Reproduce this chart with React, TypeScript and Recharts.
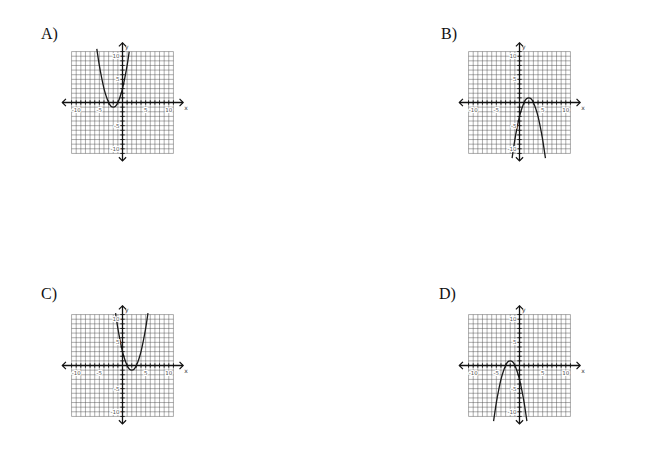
import React from 'react';
import { ComposedChart, Line, Scatter, XAxis, YAxis, ReferenceLine } from 'recharts';

// grid runs one unit past the labelled range on every side
const GRID_TICKS = [-11, -10, -9, -8, -7, -6, -5, -4, -3, -2, -1, 0, 1, 2, 3, 4, 5, 6, 7, 8, 9, 10, 11];
const X_LABELS = [-10, -5, 5, 10];
const Y_LABELS = [10, 5, -5, -10];

// curves
const A_X = [-5.55, -5, -4.5, -4, -3.5, -3, -2.5, -2, -1.5, -1, -0.5, 0, 0.5, 1, 1.45];
const A_Y = [11.6, 8, 5.3, 3, 1.3, 0, -0.8, -1, -0.8, 0, 1.3, 3, 5.3, 8, 11];

const B_X = [-1.6, -1, -0.5, 0, 0.5, 1, 1.5, 2, 2.5, 3, 3.5, 4, 4.5, 5, 5.6];
const B_Y = [-12, -8, -5.3, -3, -1.3, 0, 0.8, 1, 0.8, 0, -1.3, -3, -5.3, -8, -12];

const C_X = [-1.5, -1, -0.5, 0, 0.5, 1, 1.5, 2, 2.5, 3, 3.5, 4, 4.5, 5, 5.5];
const C_Y = [11.3, 8, 5.3, 3, 1.3, 0, -0.8, -1, -0.8, 0, 1.3, 3, 5.3, 8, 11.3];

const D_X = [-5.6, -5, -4.5, -4, -3.5, -3, -2.5, -2, -1.5, -1, -0.5, 0, 0.5, 1, 1.6];
const D_Y = [-12, -8, -5.3, -3, -1.3, 0, 0.8, 1, 0.8, 0, -1.3, -3, -5.3, -8, -12];

const PANELS = [
  { letter: 'A)', xs: A_X, ys: A_Y },
  { letter: 'B)', xs: B_X, ys: B_Y },
  { letter: 'C)', xs: C_X, ys: C_Y },
  { letter: 'D)', xs: D_X, ys: D_Y },
];

const DOMAIN: [number, number] = [-13.5, 13.5];
const PLOT = 125;
const PAD = 10;
const SIZE = PLOT + PAD * 2;

// where each panel's origin sits on the page
const ORIGINS = [
  { x: 122.2, y: 102.8, lx: 41, ly: 26 },
  { x: 519.2, y: 102.8, lx: 441, ly: 26 },
  { x: 122.2, y: 365.2, lx: 41, ly: 286 },
  { x: 519.2, y: 365.2, lx: 439, ly: 286 },
];

const GRID_COLOR = '#4a4a4a';

const chevron = (tx: number, ty: number, dx: number, dy: number) => {
  const s = 3.6;
  const px = -dy;
  const py = dx;
  return `${tx - dx * s + px * s},${ty - dy * s + py * s} ${tx},${ty} ${tx - dx * s - px * s},${ty - dy * s - py * s}`;
};

const AxisArrow = (label: string) => (props: any) => {
  const { x1, y1, x2, y2 } = props;
  const len = Math.hypot(x2 - x1, y2 - y1) || 1;
  const dx = (x2 - x1) / len;
  const dy = (y2 - y1) / len;
  const horizontal = Math.abs(dx) > Math.abs(dy);
  return (
    <g>
      <line x1={x1} y1={y1} x2={x2} y2={y2} stroke="#111" strokeWidth={1.3} />
      <polyline points={chevron(x1, y1, -dx, -dy)} fill="none" stroke="#111" strokeWidth={1.2} />
      <polyline points={chevron(x2, y2, dx, dy)} fill="none" stroke="#111" strokeWidth={1.2} />
      {horizontal ? (
        <text x={Math.max(x1, x2) + 1} y={y1 + 7} fontSize={6} fontFamily="'DejaVu Sans', sans-serif" fill="#333">
          {label}
        </text>
      ) : (
        <text x={x1 + 2.5} y={Math.min(y1, y2) + 6} fontSize={6} fontFamily="'DejaVu Sans', sans-serif" fill="#333">
          {label}
        </text>
      )}
    </g>
  );
};

const XTick = (props: any) => (
  <line x1={props.cx} y1={props.cy - 2.2} x2={props.cx} y2={props.cy + 2.2} stroke="#111" strokeWidth={0.9} />
);
const YTick = (props: any) => (
  <line x1={props.cx - 2.2} y1={props.cy} x2={props.cx + 2.2} y2={props.cy} stroke="#111" strokeWidth={0.9} />
);

const labelStyle = {
  fontSize: 5.5,
  fontFamily: "'DejaVu Sans', sans-serif",
  fill: '#555',
  stroke: '#fff',
  strokeWidth: 2,
  paintOrder: 'stroke' as const,
};

const XLabel = (props: any) => (
  <text x={props.cx} y={props.cy + 9} textAnchor="middle" style={labelStyle}>
    {props.payload.x}
  </text>
);
const YLabel = (props: any) => (
  <text x={props.cx - 3} y={props.cy + 2} textAnchor="end" style={labelStyle}>
    {props.payload.y}
  </text>
);

const Graph = ({ xs, ys }: { xs: number[]; ys: number[] }) => {
  const curve = xs.map((x, i) => ({ x, y: ys[i] }));
  const xTicks = GRID_TICKS.map((k) => ({ x: k, y: 0 }));
  const yTicks = GRID_TICKS.map((k) => ({ x: 0, y: k }));
  const xLabels = X_LABELS.map((k) => ({ x: k, y: 0 }));
  const yLabels = Y_LABELS.map((k) => ({ x: 0, y: k }));
  const lo = GRID_TICKS[0];
  const hi = GRID_TICKS[GRID_TICKS.length - 1];

  return (
    <ComposedChart width={SIZE} height={SIZE} margin={{ top: PAD, right: PAD, bottom: PAD, left: PAD }}>
      <XAxis type="number" dataKey="x" domain={DOMAIN} allowDataOverflow hide />
      <YAxis type="number" dataKey="y" domain={DOMAIN} allowDataOverflow hide />
      {GRID_TICKS.map((k) => (
        <ReferenceLine
          key={`v${k}`}
          segment={[{ x: k, y: lo }, { x: k, y: hi }]}
          stroke={GRID_COLOR}
          strokeOpacity={0.5}
          strokeWidth={0.9}
        />
      ))}
      {GRID_TICKS.map((k) => (
        <ReferenceLine
          key={`h${k}`}
          segment={[{ x: lo, y: k }, { x: hi, y: k }]}
          stroke={GRID_COLOR}
          strokeOpacity={0.5}
          strokeWidth={0.9}
        />
      ))}
      <ReferenceLine segment={[{ x: -13, y: 0 }, { x: 13.1, y: 0 }]} shape={AxisArrow('x')} />
      <ReferenceLine segment={[{ x: 0, y: -12.6 }, { x: 0, y: 12.9 }]} shape={AxisArrow('y')} />
      <Scatter data={xTicks} dataKey="y" shape={XTick} isAnimationActive={false} />
      <Scatter data={yTicks} dataKey="y" shape={YTick} isAnimationActive={false} />
      <Scatter data={xLabels} dataKey="y" shape={XLabel} isAnimationActive={false} />
      <Scatter data={yLabels} dataKey="y" shape={YLabel} isAnimationActive={false} />
      <Line
        data={curve}
        dataKey="y"
        type="natural"
        dot={false}
        stroke="#1a1a1a"
        strokeWidth={1.3}
        isAnimationActive={false}
      />
    </ComposedChart>
  );
};

export default function App() {
  return (
    <div style={{ position: 'fixed', left: 0, top: 0, width: 650, height: 466, background: '#fff' }}>
      {PANELS.map((p, i) => {
        const o = ORIGINS[i];
        return (
          <React.Fragment key={p.letter}>
            <div
              style={{
                position: 'absolute',
                left: o.lx,
                top: o.ly,
                fontFamily: "'Liberation Serif', serif",
                fontSize: 16,
                lineHeight: '16px',
                color: '#111',
              }}
            >
              {p.letter}
            </div>
            <div style={{ position: 'absolute', left: o.x - SIZE / 2, top: o.y - SIZE / 2 }}>
              <Graph xs={p.xs} ys={p.ys} />
            </div>
          </React.Fragment>
        );
      })}
    </div>
  );
}
